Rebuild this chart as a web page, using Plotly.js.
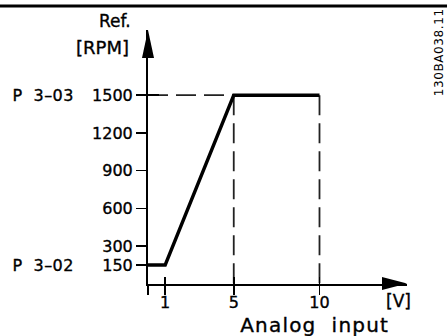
<!DOCTYPE html>
<html>
<head>
<meta charset="utf-8">
<script src="https://cdn.plot.ly/plotly-3.0.1.min.js"></script>
<style>
  html, body { margin: 0; padding: 0; background: #fff; }
  #chart { width: 447px; height: 336px; }
  #chart svg text { stroke: #000; stroke-width: 0.35px; }
  #chart g.annotation[data-index="0"] text,
  #chart g.annotation[data-index="1"] text { white-space: pre; letter-spacing: 0.4px; }
  #chart g.annotation[data-index="5"] text { letter-spacing: 1.2px; white-space: pre; }
  #chart g.annotation[data-index="6"] text { letter-spacing: 0.6px; stroke-width: 0; }
</style>
</head>
<body>
<div id="chart"></div>
<script>
// ---- data ----
var inputVolts = [0, 1, 5, 10];          // analog input [V]
var refRpm = [150, 150, 1500, 1500];     // reference [RPM]
var yTickVals = [150, 300, 600, 900, 1200, 1500];
var yTickText = ['150', '300', '600', '900', '1200', '1500'];
var xTickVals = [1, 5, 10];
var xTickText = ['1', '5', '10'];
var paramLabels = ['P  3\u201302', 'P  3\u201303'];  // min / max reference params
var paramValues = [150, 1500];

// ---- layout geometry (pixels) ----
var W = 447, H = 336;
var mL = 148, mR = 40, mT = 30, mB = 52;
var pw = W - mL - mR, ph = H - mT - mB;
function px(x) { return (x - mL) / pw; }          // pixel x -> paper
function py(y) { return (H - mB - y) / ph; }      // pixel y -> paper

var FONT = 'DejaVu Sans, sans-serif';
var maxV = inputVolts[3], knotV = inputVolts[2];
var maxR = paramValues[1];
var DASH = { color: '#222', width: 1.8, dash: '20px,8px' };

var traces = [
  // dashed guide: horizontal at max ref
  { x: [0, knotV], y: [maxR, maxR], mode: 'lines', line: DASH, hoverinfo: 'skip' },
  // dashed guides: vertical at knots
  { x: [knotV, knotV], y: [maxR, 0], mode: 'lines', line: DASH, hoverinfo: 'skip' },
  { x: [maxV, maxV], y: [maxR, 0], mode: 'lines', line: DASH, hoverinfo: 'skip' },
  // main characteristic
  { x: inputVolts, y: refRpm, mode: 'lines',
    line: { color: '#000', width: 3.5 }, hoverinfo: 'skip' }
];

var afont = function (s) { return { family: FONT, size: s, color: '#000' }; };
var annotations = [
  { text: paramLabels[1], xref: 'paper', yref: 'y', x: px(12), y: paramValues[1],
    xanchor: 'left', yanchor: 'middle', showarrow: false, font: afont(16) },
  { text: paramLabels[0], xref: 'paper', yref: 'y', x: px(12), y: paramValues[0],
    xanchor: 'left', yanchor: 'middle', showarrow: false, font: afont(16) },
  { text: 'Ref.', xref: 'paper', yref: 'paper', x: px(115), y: py(21),
    xanchor: 'center', yanchor: 'middle', showarrow: false, font: afont(17) },
  { text: '[RPM]', xref: 'paper', yref: 'paper', x: px(102), y: py(47),
    xanchor: 'center', yanchor: 'middle', showarrow: false, font: afont(18) },
  { text: '[V]', xref: 'paper', yref: 'paper', x: px(398), y: py(301),
    xanchor: 'center', yanchor: 'middle', showarrow: false, font: afont(17) },
  { text: 'Analog  input', xref: 'paper', yref: 'paper', x: px(314), y: py(325),
    xanchor: 'center', yanchor: 'middle', showarrow: false, font: afont(20) },
  { text: '130BA038.11', xref: 'paper', yref: 'paper', x: px(439), y: py(53), textangle: -90,
    xanchor: 'center', yanchor: 'middle', showarrow: false, font: afont(12) }
];

var shapes = [
  // top rule
  { type: 'line', xref: 'paper', yref: 'paper', x0: px(0), x1: px(W), y0: py(6), y1: py(6),
    line: { color: '#000', width: 3 } },
  // y-axis arrow head
  { type: 'path', xref: 'paper', yref: 'paper', fillcolor: '#000', line: { width: 0 },
    path: 'M ' + px(148) + ' ' + py(30) + ' L ' + px(142) + ' ' + py(58) + ' L ' + px(154) + ' ' + py(58) + ' Z' },
  // x-axis arrow head
  { type: 'path', xref: 'paper', yref: 'paper', fillcolor: '#000', line: { width: 0 },
    path: 'M ' + px(407) + ' ' + py(283.5) + ' L ' + px(382) + ' ' + py(277) + ' L ' + px(382) + ' ' + py(290) + ' Z' }
];

var xRange = [0, (W - mR - mL) / 17.15];
var yRange = [0, (H - mB - mT) / 0.1259];

var layout = {
  width: W, height: H,
  margin: { l: mL, r: mR, t: mT, b: mB, pad: 0 },
  paper_bgcolor: '#fff', plot_bgcolor: '#fff',
  showlegend: false,
  font: { family: FONT, size: 16, color: '#000' },
  xaxis: {
    range: xRange, showgrid: false, zeroline: false,
    showline: true, linecolor: '#000', linewidth: 2,
    ticks: 'outside', ticklen: 9, tickwidth: 1.5, tickcolor: '#000',
    tickvals: [0].concat(xTickVals), ticktext: [''].concat(xTickText),
    tickfont: afont(16), ticklabelstandoff: -6
  },
  xaxis2: {
    overlaying: 'x', anchor: 'y', side: 'bottom', range: xRange,
    showgrid: false, zeroline: false, showline: false,
    ticks: 'inside', ticklen: 7, tickwidth: 1.5, tickcolor: '#000',
    tickvals: xTickVals, showticklabels: false
  },
  yaxis: {
    range: yRange, showgrid: false, zeroline: false,
    showline: true, linecolor: '#000', linewidth: 2,
    ticks: 'outside', ticklen: 10, tickwidth: 1.5, tickcolor: '#000',
    tickvals: yTickVals, ticktext: yTickText,
    tickfont: afont(16)
  },
  yaxis2: {
    overlaying: 'y', anchor: 'x', side: 'left', range: yRange,
    showgrid: false, zeroline: false, showline: false,
    ticks: 'inside', ticklen: 11, tickwidth: 1.5, tickcolor: '#000',
    tickvals: [maxR], showticklabels: false
  },
  annotations: annotations,
  shapes: shapes
};

// empty traces to activate the overlay axes
traces.push({ x: [], y: [], xaxis: 'x2', yaxis: 'y', mode: 'lines', hoverinfo: 'skip' });
traces.push({ x: [], y: [], xaxis: 'x', yaxis: 'y2', mode: 'lines', hoverinfo: 'skip' });

Plotly.newPlot('chart', traces, layout, { displayModeBar: false, staticPlot: true });
</script>
</body>
</html>
